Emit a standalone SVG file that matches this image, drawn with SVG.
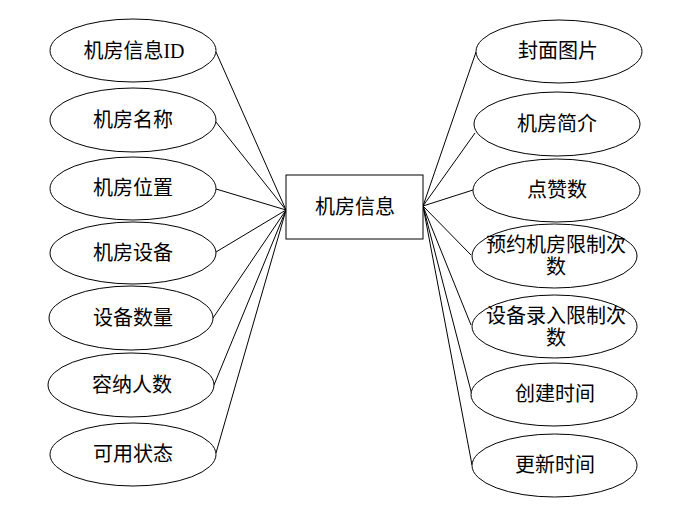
<svg xmlns="http://www.w3.org/2000/svg" width="693" height="513" viewBox="0 0 693 513">
<style>
.e{fill:#fff;stroke:#000;stroke-width:1}
.r{fill:#fff;stroke:#000;stroke-width:1}
.c line{stroke:#000;stroke-width:1}
text{font-family:"Liberation Serif","Noto Sans CJK SC",serif;font-size:20px;fill:#000;text-anchor:middle}
</style>
<rect width="693" height="513" fill="#fff"/>
<g id="connectors" class="c">
<line x1="216" y1="52" x2="286" y2="210"/>
<line x1="216" y1="122" x2="286" y2="210"/>
<line x1="216" y1="189" x2="286" y2="210"/>
<line x1="216" y1="252" x2="286" y2="210"/>
<line x1="213" y1="318" x2="286" y2="210"/>
<line x1="214" y1="385" x2="286" y2="210"/>
<line x1="216" y1="453" x2="286" y2="210"/>
<line x1="423" y1="206" x2="476" y2="52"/>
<line x1="423" y1="206" x2="475" y2="133"/>
<line x1="423" y1="206" x2="473" y2="190"/>
<line x1="423" y1="206" x2="471" y2="255"/>
<line x1="423" y1="206" x2="471" y2="325"/>
<line x1="423" y1="206" x2="472" y2="395"/>
<line x1="423" y1="206" x2="472" y2="465"/>
</g>
<g id="center"><rect class="r" x="286" y="175" width="137" height="64"/><text x="355" y="214">机房信息</text></g>
<g id="l1"><ellipse class="e" cx="133" cy="50.5" rx="83" ry="31.5"/><text x="134" y="58">机房信息ID</text></g>
<g id="l2"><ellipse class="e" cx="133" cy="120" rx="83" ry="32"/><text x="133" y="127">机房名称</text></g>
<g id="l3"><ellipse class="e" cx="133" cy="188.5" rx="83" ry="31.5"/><text x="133" y="195">机房位置</text></g>
<g id="l4"><ellipse class="e" cx="133" cy="253" rx="83" ry="31"/><text x="133" y="260">机房设备</text></g>
<g id="l5"><ellipse class="e" cx="131" cy="318" rx="82" ry="32"/><text x="133" y="325">设备数量</text></g>
<g id="l6"><ellipse class="e" cx="131" cy="385" rx="83" ry="32"/><text x="132" y="392">容纳人数</text></g>
<g id="l7"><ellipse class="e" cx="133" cy="454.5" rx="83" ry="31.5"/><text x="133" y="461">可用状态</text></g>
<g id="r1"><ellipse class="e" cx="559" cy="51.5" rx="83" ry="31.5"/><text x="558" y="58">封面图片</text></g>
<g id="r2"><ellipse class="e" cx="557" cy="124" rx="83" ry="32"/><text x="557" y="131">机房简介</text></g>
<g id="r3"><ellipse class="e" cx="556.5" cy="190.5" rx="83.5" ry="31.5"/><text x="557" y="197">点赞数</text></g>
<g id="r4"><ellipse class="e" cx="554.5" cy="256" rx="82.5" ry="32"/><text x="556" y="252">预约机房限制次</text><text x="556" y="274">数</text></g>
<g id="r5"><ellipse class="e" cx="554.5" cy="326.5" rx="82.5" ry="31.5"/><text x="556" y="323">设备录入限制次</text><text x="556" y="345">数</text></g>
<g id="r6"><ellipse class="e" cx="554" cy="394.5" rx="83" ry="31.5"/><text x="555" y="401">创建时间</text></g>
<g id="r7"><ellipse class="e" cx="554.5" cy="465.5" rx="82.5" ry="31.5"/><text x="555" y="472">更新时间</text></g>
</svg>
